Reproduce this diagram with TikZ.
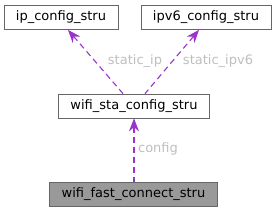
\documentclass[tikz,border=0pt]{standalone}
\usepackage{fontspec}
\setmainfont{DejaVu Sans}
\usetikzlibrary{arrows.meta,positioning}
\definecolor{structEdge}{HTML}{666666}
\definecolor{structRoot}{HTML}{999999}
\definecolor{memberLink}{HTML}{9A32CD}
\definecolor{memberText}{HTML}{BEBEBE}
\tikzset{
    structbox/.style={draw=structEdge, line width=0.8pt, fill=white, inner xsep=12pt, inner ysep=0pt, minimum height=24pt, font=\fontsize{13}{15}\selectfont},
    rootbox/.style={structbox, fill=structRoot},
    memberlink/.style={{Stealth[length=13pt,width=10pt]}-, line width=1.1pt, dashed, dash pattern=on 6pt off 4pt, draw=memberLink},
    memberlabel/.style={text=memberText, font=\fontsize{13}{15}\selectfont}
}
\begin{document}
\begin{tikzpicture}[x=1pt,y=1pt]
\useasboundingbox (0,0) rectangle (277,212);
% structures
\node[structbox] (ip) at (61,194.5) {ip\_config\_stru};
\node[structbox] (ipv6) at (206,194.5) {ipv6\_config\_stru};
\node[structbox] (sta) at (134,106) {wifi\_sta\_config\_stru};
\node[rootbox] (fast) at (133.5,18) {wifi\_fast\_connect\_stru};
% members
\draw[memberlink] ([xshift=7pt]ip.south) -- ([xshift=-11pt]sta.north);
\draw[memberlink] ([xshift=-7pt]ipv6.south) -- ([xshift=11pt]sta.north);
\draw[memberlink] (sta.south) -- (sta.south |- fast.north);
\node[memberlabel] (lip) at (135,151) {static\_ip};
\node[memberlabel] (lipv6) at (218,151) {static\_ipv6};
\node[memberlabel] (lcfg) at (158,63) {config};
\end{tikzpicture}
\end{document}
